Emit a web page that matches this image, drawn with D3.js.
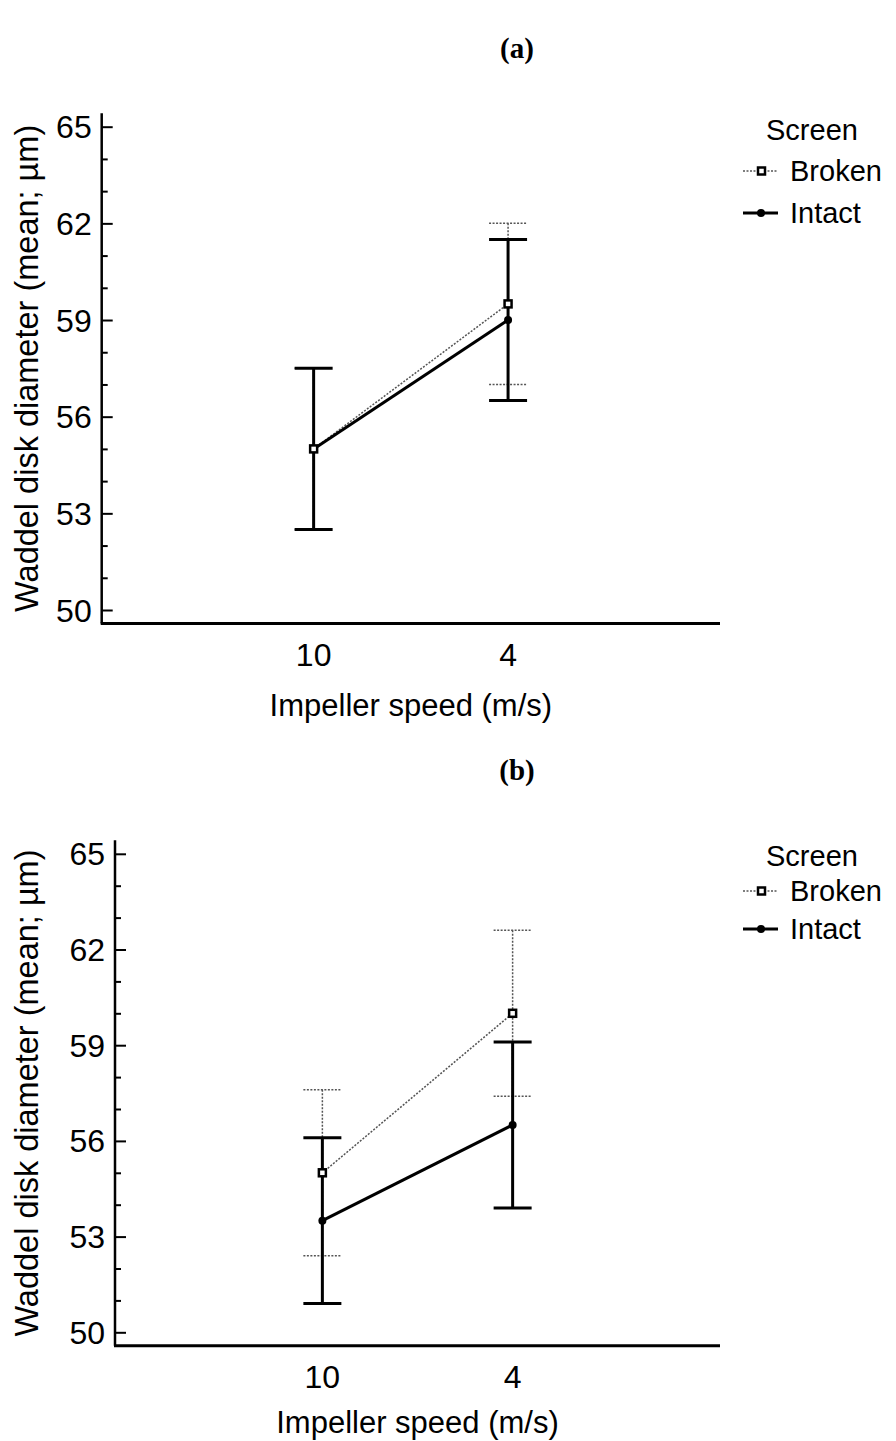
<!DOCTYPE html>
<html>
<head>
<meta charset="utf-8">
<script src="https://cdn.jsdelivr.net/npm/d3@7"></script>
<style>
  body { margin: 0; background: #fff; }
  text { font-family: "Liberation Sans", Arial, sans-serif; fill: #000; }
</style>
</head>
<body>
<div id="chart"></div>
<script>

// data
const categories = ["10", "4"];
const seriesNames = ["Broken", "Intact"];
const yTicks = [50, 53, 56, 59, 62, 65];

const brokenA = [55.0, 59.5];
const brokenErrA = [2.5, 2.5];
const intactA = [55.0, 59.0];
const intactErrA = [2.5, 2.5];

const brokenB = [55.0, 60.0];
const brokenErrB = [2.6, 2.6];
const intactB = [53.5, 56.5];
const intactErrB = [2.6, 2.6];

const svg = d3.select("#chart")
    .append("svg")
    .attr("width", 896)
    .attr("height", 1441);

svg.append("rect").attr("width", 896).attr("height", 1441).attr("fill", "#fff");

function panel(opt) {
    const g = svg.append("g");

    // title (a) / (b)
    g.append("text")
        .attr("x", 517)
        .attr("y", opt.titleY)
        .attr("text-anchor", "middle")
        .style("font-family", "'Liberation Serif', 'Times New Roman', serif")
        .style("font-weight", "bold")
        .style("font-size", "29px")
        .text(opt.title);

    const x = d3.scalePoint()
        .domain(categories)
        .range([opt.left, opt.right])
        .padding(1.09);

    const y = d3.scaleLinear()
        .domain([50, 65])
        .range([opt.bottom, opt.top]);

    const axisY = opt.bottom + 13.5;
    const axisTop = opt.top - 13.5;

    // y axis, ticks pointing inward
    const minor = d3.range(50, 65.5, 1).filter(v => yTicks.indexOf(v) < 0);
    const yg = g.append("g").attr("transform", "translate(" + opt.left + ",0)");
    yg.call(d3.axisRight(y).tickValues(minor).tickSize(6).tickFormat(""));
    yg.select(".domain").remove();
    const yg2 = g.append("g").attr("transform", "translate(" + opt.left + ",0)");
    yg2.call(d3.axisRight(y).tickValues(yTicks).tickSize(11).tickFormat(""));
    yg2.select(".domain").remove();
    g.selectAll(".tick line").attr("stroke", "#000").attr("stroke-width", 2);

    g.append("line")
        .attr("x1", opt.left).attr("x2", opt.left)
        .attr("y1", axisTop).attr("y2", axisY)
        .attr("stroke", "#000").attr("stroke-width", 2.5);

    g.selectAll(".ylab")
        .data(yTicks)
        .enter()
        .append("text")
        .attr("x", opt.left - 10)
        .attr("y", d => y(d))
        .attr("dy", "0.36em")
        .attr("text-anchor", "end")
        .style("font-size", "32px")
        .text(d => d);

    // x axis
    g.append("line")
        .attr("x1", opt.left - 1).attr("x2", opt.right)
        .attr("y1", axisY).attr("y2", axisY)
        .attr("stroke", "#000").attr("stroke-width", 3);

    g.selectAll(".xlab")
        .data(categories)
        .enter()
        .append("text")
        .attr("x", d => x(d))
        .attr("y", axisY + 42)
        .attr("text-anchor", "middle")
        .style("font-size", "32px")
        .text(d => d);

    g.append("text")
        .attr("x", (opt.left + opt.right) / 2)
        .attr("y", axisY + opt.xTitleOff)
        .attr("text-anchor", "middle")
        .style("font-size", "31px")
        .text("Impeller speed (m/s)");

    g.append("text")
        .attr("transform", "translate(38," + (axisTop + axisY) / 2 + ")rotate(-90)")
        .attr("text-anchor", "middle")
        .style("font-size", "32.5px")
        .text("Waddel disk diameter (mean; \u00b5m)");

    const styles = {
        Broken: { stroke: "#555", width: 1.5, dash: "2,1.5" },
        Intact: { stroke: "#000", width: 3, dash: null }
    };
    const data = [
        { name: "Broken", values: opt.broken, errs: opt.brokenErr },
        { name: "Intact", values: opt.intact, errs: opt.intactErr }
    ];

    const line = d3.line()
        .x((d, i) => x(categories[i]))
        .y(d => y(d));

    const capW = 19;
    data.forEach(function (s) {
        const st = styles[s.name];
        const sg = g.append("g")
            .attr("stroke", st.stroke)
            .attr("stroke-width", st.width)
            .attr("stroke-dasharray", st.dash)
            .attr("fill", "none");
        s.values.forEach(function (v, i) {
            const cx = x(categories[i]);
            const hi = y(v + s.errs[i]), lo = y(v - s.errs[i]);
            sg.append("line").attr("x1", cx).attr("x2", cx).attr("y1", hi).attr("y2", lo);
            sg.append("line").attr("x1", cx - capW).attr("x2", cx + capW).attr("y1", hi).attr("y2", hi);
            sg.append("line").attr("x1", cx - capW).attr("x2", cx + capW).attr("y1", lo).attr("y2", lo);
        });
        sg.append("path").datum(s.values).attr("d", line);
    });

    // markers: intact circles, then broken squares on top
    g.selectAll(".dotI")
        .data(opt.intact)
        .enter()
        .append("circle")
        .attr("cx", (d, i) => x(categories[i]))
        .attr("cy", d => y(d))
        .attr("r", 4)
        .attr("fill", "#000");

    g.selectAll(".dotB")
        .data(opt.broken)
        .enter()
        .append("rect")
        .attr("x", (d, i) => x(categories[i]) - 3.5)
        .attr("y", d => y(d) - 3.5)
        .attr("width", 7)
        .attr("height", 7)
        .attr("fill", "#fff")
        .attr("stroke", "#000")
        .attr("stroke-width", 2.5);

    // legend
    const lg = g.append("g");
    lg.append("text")
        .attr("x", 766)
        .attr("y", opt.legY[0])
        .style("font-size", "29px")
        .text("Screen");
    seriesNames.forEach(function (n, i) {
        const ly = opt.legY[i + 1];
        const st = styles[n];
        lg.append("line")
            .attr("x1", 743).attr("x2", 778)
            .attr("y1", ly - 10).attr("y2", ly - 10)
            .attr("stroke", st.stroke)
            .attr("stroke-width", st.width)
            .attr("stroke-dasharray", st.dash);
        if (n === "Broken") {
            lg.append("rect")
                .attr("x", 758).attr("y", ly - 13.5)
                .attr("width", 7).attr("height", 7)
                .attr("fill", "#fff").attr("stroke", "#000").attr("stroke-width", 2.5);
        } else {
            lg.append("circle")
                .attr("cx", 761).attr("cy", ly - 10).attr("r", 4).attr("fill", "#000");
        }
        lg.append("text")
            .attr("x", 790)
            .attr("y", ly)
            .style("font-size", "29px")
            .text(n);
    });
}

panel({
    title: "(a)", titleY: 58,
    left: 101.7, right: 720, top: 126.7, bottom: 610,
    broken: brokenA, brokenErr: brokenErrA, intact: intactA, intactErr: intactErrA,
    legY: [140, 181, 223], xTitleOff: 92
});

panel({
    title: "(b)", titleY: 780,
    left: 115, right: 720, top: 853.8, bottom: 1332.3,
    broken: brokenB, brokenErr: brokenErrB, intact: intactB, intactErr: intactErrB,
    legY: [866, 901, 939], xTitleOff: 87
});

</script>
</body>
</html>
